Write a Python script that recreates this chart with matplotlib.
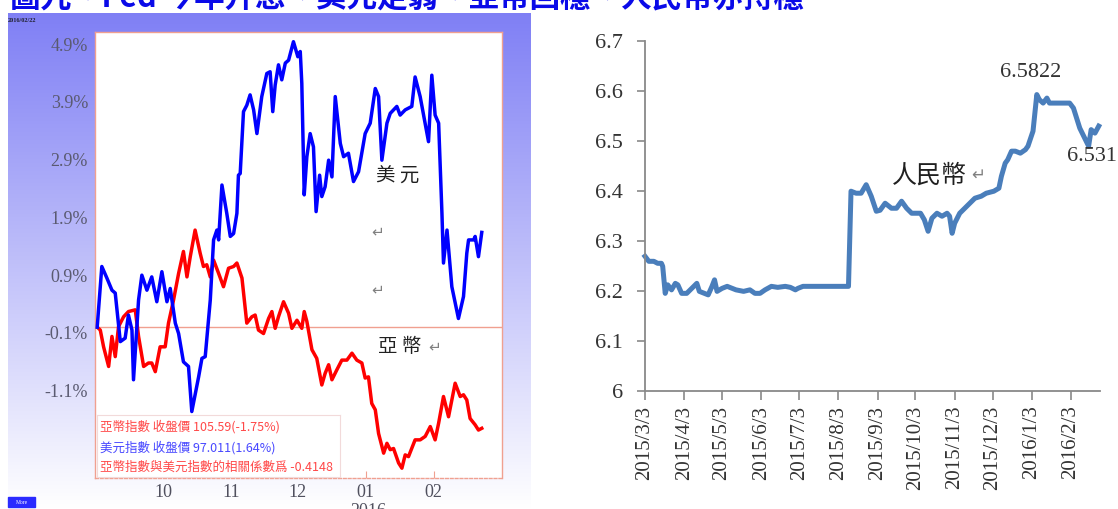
import numpy as np
import matplotlib
matplotlib.use("Agg")
import matplotlib.pyplot as plt

plt.rcParams['font.family'] = ['Liberation Serif', 'DejaVu Sans']
plt.rcParams['axes.unicode_minus'] = False
CJK = ['Noto Sans CJK TC', 'DejaVu Sans']

title = "圖九、Fed 今年升息、美元走弱、亞幣回穩、人民幣亦持穩"

# left panel: % change since 2015/09/01, x = days since 2015/09/01
usd_day = [0, 2.1, 4.4, 6.7, 8.2, 10.5, 12.7, 14.2, 15.8, 16.5,
           18.8, 20.3, 22.6, 24.8, 27.1, 29.4, 31.7, 33.2, 35.5, 37.0,
           39.2, 41.5, 43.0, 46.1, 47.6, 49.1, 51.4, 52.9, 54.4, 55.2,
           56.7, 58.9, 60.5, 62.0, 63.5, 64.2, 65.0, 66.5, 68.0, 69.5,
           71.1, 72.6, 74.8, 77.1, 78.6, 79.8, 80.9, 82.4, 83.9, 85.5,
           87.0, 89.2, 91.2, 92.3, 93.0, 94.1, 95.3, 96.8, 98.3, 99.5,
           101.1, 102.1, 103.6, 105.2, 106.7, 108.2, 110.5, 112.0, 114.2, 116.5,
           118.8, 121.8, 124.1, 126.4, 127.9, 129.4, 131.7, 133.2, 136.2, 137.7,
           140.0, 143.0, 144.5, 146.8, 150.6, 152.1, 153.6, 155.2, 156.7, 157.4,
           159.0, 161.2, 164.2, 166.5, 168.0, 168.8, 171.1, 171.8, 173.3, 174.8]
usd_pct = [0.0, 1.05, 0.85, 0.64, 0.59, -0.25, -0.19, 0.21, -0.05, -0.91,
           0.47, 0.90, 0.64, 0.87, 0.44, 0.96, 0.44, 0.67, 0.07, -0.11,
           -0.60, -0.68, -1.46, -0.86, -0.54, -0.51, 0.47, 1.51, 1.68, 1.51,
           2.46, 1.97, 1.57, 1.62, 1.97, 2.63, 2.66, 3.73, 3.84, 4.02,
           3.76, 3.35, 3.99, 4.39, 4.42, 3.73, 4.19, 4.54, 4.28, 4.57,
           4.62, 4.94, 4.68, 4.77, 4.22, 2.29, 2.95, 3.35, 3.12, 2.00,
           2.63, 2.26, 2.43, 2.89, 2.60, 3.99, 3.18, 2.95, 3.01, 2.52,
           2.69, 3.35, 3.53, 4.13, 3.99, 2.89, 3.53, 3.70, 3.82, 3.67,
           3.76, 3.82, 4.33, 3.99, 3.21, 4.36, 3.67, 3.53, 1.97, 1.11,
           1.68, 0.70, 0.15, 0.53, 1.28, 1.51, 1.51, 1.57, 1.22, 1.64]

asia_day = [0, 1.4, 2.9, 5.2, 6.7, 8.2, 9.7, 12.0, 14.2, 17.3,
            18.8, 21.1, 23.3, 24.8, 26.4, 28.6, 30.9, 32.4, 34.7, 37.0,
            39.2, 40.8, 42.3, 44.5, 46.8, 48.3, 49.8, 51.4, 52.9, 55.2,
            57.4, 59.7, 62.0, 63.5, 65.8, 68.0, 70.3, 71.8, 73.3, 75.6,
            77.9, 79.4, 80.9, 82.4, 84.7, 87.0, 88.5, 90.8, 93.0, 94.1,
            95.3, 97.6, 99.8, 102.1, 103.6, 105.2, 106.7, 108.9, 111.2, 113.5,
            115.8, 118.0, 120.3, 121.8, 123.3, 124.8, 126.4, 127.9, 130.2, 131.7,
            133.2, 134.7, 137.0, 138.5, 140.0, 141.5, 144.5, 146.8, 149.1, 151.4,
            153.6, 155.2, 157.4, 159.7, 162.7, 165.0, 166.5, 168.0, 169.5, 171.8,
            173.3, 174.8]
asia_pct = [0.0, -0.05, -0.34, -0.68, -0.16, -0.51, 0.01, 0.18, 0.27, 0.30,
            -0.16, -0.68, -0.62, -0.62, -0.77, -0.34, -0.34, 0.07, 0.47, 0.93,
            1.31, 0.87, 1.22, 1.68, 1.28, 1.05, 1.08, 0.87, 1.16, 0.93,
            0.70, 1.02, 1.05, 1.11, 0.85, 0.07, 0.18, 0.21, -0.05, -0.11,
            0.15, 0.27, -0.02, 0.18, 0.44, 0.24, -0.02, 0.12, -0.02, 0.27,
            0.10, -0.39, -0.54, -1.00, -0.80, -0.65, -0.91, -0.74, -0.57, -0.57,
            -0.45, -0.57, -0.62, -0.88, -0.86, -1.32, -1.43, -1.84, -2.18, -2.01,
            -2.12, -2.10, -2.35, -2.44, -2.21, -2.24, -1.95, -1.95, -1.89, -1.72,
            -1.95, -1.66, -1.20, -1.55, -0.97, -1.20, -1.17, -1.26, -1.58, -1.69,
            -1.78, -1.75]

left_yticks = [-1.1, -0.1, 0.9, 1.9, 2.9, 3.9, 4.9]
month_days = [30, 61, 91, 122, 153]
month_labels = ['10', '11', '12', '01', '02']
legend_lines = [("亞幣指數 收盤價 105.59(-1.75%)", '#ff4848'),
                ("美元指數 收盤價 97.011(1.64%)", '#4848ff'),
                ("亞幣指數與美元指數的相關係數爲 -0.4148", '#ff4848')]

# right panel: USD/CNY, x = days since 2015/03/03
cny_day = [0, 3, 7, 10, 13, 14, 16, 18, 21, 24,
           26, 29, 33, 37, 41, 43, 47, 50, 53, 55,
           57, 61, 65, 69, 72, 78, 83, 87, 91, 95,
           100, 105, 111, 115, 119, 121, 125, 141, 161, 163,
           167, 171, 175, 179, 183, 186, 190, 195, 199, 203,
           207, 211, 218, 221, 224, 227, 231, 235, 239, 241,
           243, 245, 249, 253, 257, 261, 266, 270, 276, 280,
           282, 285, 287, 290, 293, 297, 301, 303, 307, 310,
           312, 315, 318, 320, 326, 336, 339, 344, 351, 353,
           356, 359]
cny = [6.269, 6.259, 6.259, 6.255, 6.255, 6.249, 6.195, 6.212, 6.202, 6.215,
       6.212, 6.195, 6.195, 6.205, 6.215, 6.199, 6.195, 6.192, 6.209, 6.222,
       6.199, 6.205, 6.209, 6.205, 6.202, 6.199, 6.202, 6.195, 6.195, 6.202,
       6.209, 6.207, 6.209, 6.207, 6.202, 6.205, 6.209, 6.209, 6.209, 6.399,
       6.395, 6.395, 6.412, 6.389, 6.359, 6.361, 6.375, 6.365, 6.365, 6.379,
       6.365, 6.355, 6.355, 6.342, 6.319, 6.345, 6.355, 6.349, 6.355, 6.349,
       6.315, 6.335, 6.355, 6.365, 6.375, 6.385, 6.389, 6.395, 6.399, 6.405,
       6.429, 6.455, 6.462, 6.479, 6.479, 6.475, 6.482, 6.489, 6.519, 6.592,
       6.582, 6.575, 6.585, 6.575, 6.575, 6.575, 6.565, 6.525, 6.489, 6.522,
       6.515, 6.529]
cny_ticks = ['2015-03-03', '2015-04-03', '2015-05-03', '2015-06-03', '2015-07-03',
             '2015-08-03', '2015-09-03', '2015-10-03', '2015-11-03', '2015-12-03',
             '2016-01-03', '2016-02-03']
cny_tick_labels = ['2015/3/3', '2015/4/3', '2015/5/3', '2015/6/3', '2015/7/3',
                   '2015/8/3', '2015/9/3', '2015/10/3', '2015/11/3', '2015/12/3',
                   '2016/1/3', '2016/2/3']
cny_yticks = [6.0, 6.1, 6.2, 6.3, 6.4, 6.5, 6.6, 6.7]
cny_ylabels = ['6', '6.1', '6.2', '6.3', '6.4', '6.5', '6.6', '6.7']

W, H = 1118, 509


def fx(x):
    return x / W


def fy(y):
    return 1 - y / H


fig = plt.figure(figsize=(11.18, 5.09), dpi=100)

# title, cut off at the top like the source
fig.text(fx(10), fy(6.5), title, family=CJK, fontsize=22, weight='bold',
         color='#0a0ae8', va='baseline', ha='left')

# gradient backdrop of the left screenshot
bg = fig.add_axes([fx(7.5), 0, fx(530) - fx(7.5), fy(13)])
t = np.linspace(0, 1, 256)[:, None, None]
c_top = np.array([0.50, 0.50, 0.96])
img = c_top + (1 - c_top) * t
bg.imshow(img, aspect='auto', extent=[0, 1, 0, 1], origin='upper')
bg.axis('off')
fig.text(fx(8), fy(21), "2016/02/22", fontsize=4.5, weight='bold', color='#202030', va='center')
fig.add_artist(plt.Rectangle((fx(8), fy(507)), fx(27), 10 / H, transform=fig.transFigure,
                             color='#2a2aff'))
fig.text(fx(21.5), fy(502), "More", fontsize=4, color='white', ha='center', va='center')

# left chart
salmon = '#f0a090'
ax1 = fig.add_axes([fx(95), fy(478), fx(502) - fx(95), fy(31.7) - fy(478)])
ax1.set_facecolor('white')
ax1.axhline(0, color=salmon, lw=1, zorder=1)
ax1.plot(asia_day, asia_pct, color='#ff0000', lw=2.5, zorder=2)
ax1.plot(usd_day, usd_pct, color='#0000ff', lw=2.5, zorder=3)
ax1.set_xlim(-1, 184)
ax1.set_ylim(-2.61, 5.113)
ax1.set_yticks(left_yticks, [f"{v:.1f}%" for v in left_yticks])
ax1.set_xticks(month_days, month_labels)
ax1.tick_params(axis='y', length=0, pad=5, labelsize=13, labelcolor='#5a5a70')
ax1.tick_params(axis='x', direction='in', length=5, color=salmon, pad=4,
                labelsize=13, labelcolor='#50505e')
for s in ax1.spines.values():
    s.set_color(salmon)
    s.set_linewidth(1)
ax1.spines['bottom'].set_linestyle((0, (2, 1.5)))
fig.text(fx(368), fy(503), "2016", fontsize=13, color='#50505e', ha='center', va='top')

ax1.text(136.8, 2.62, "美 元", family=CJK, fontsize=14, color='#202020', ha='center', va='center')
ax1.text(137.3, -0.34, "亞 幣", family=CJK, fontsize=14, color='#202020', ha='center', va='center')
for yv in [1.65, 0.64]:
    ax1.text(127.3, yv, "↵", family=['DejaVu Sans'], fontsize=11, color='#808080',
             ha='center', va='center')
ax1.text(153.5, -0.34, "↵", family=['DejaVu Sans'], fontsize=11, color='#808080',
         ha='center', va='center')

# legend box
lg = fig.add_axes([fx(97), fy(477), fx(340) - fx(97), fy(415) - fy(477)])
lg.set_facecolor('white')
lg.set_xticks([])
lg.set_yticks([])
for s in lg.spines.values():
    s.set_color('#f2dada')
for (txt, col), yy in zip(legend_lines, [0.81, 0.48, 0.16]):
    lg.text(0.012, yy, txt, family=CJK, fontsize=9, color=col, va='center', ha='left',
            transform=lg.transAxes)

# right chart
grey = '#898989'
start = np.datetime64('2015-03-03')
cny_dates = start + np.array(cny_day, dtype='timedelta64[D]')
ax2 = fig.add_axes([fx(645), fy(391), fx(1100) - fx(645), fy(40.5) - fy(391)])
ax2.plot(cny_dates, cny, color='#4a7ebb', lw=3.6, solid_joinstyle='round', clip_on=False)
ax2.set_xlim(start, start + np.timedelta64(360, 'D'))
ax2.set_ylim(6.0, 6.7)
ax2.set_yticks(cny_yticks, cny_ylabels)
ax2.set_xticks(np.array(cny_ticks, dtype='datetime64[D]'), cny_tick_labels, rotation=90)
ax2.tick_params(axis='y', direction='out', length=6, width=1.2, color=grey, pad=10,
                labelsize=16, labelcolor='#333333')
ax2.tick_params(axis='x', direction='out', length=6.5, width=1.2, color=grey, pad=4,
                labelsize=15, labelcolor='#333333')
for side in ['top', 'right']:
    ax2.spines[side].set_visible(False)
for side in ['left', 'bottom']:
    ax2.spines[side].set_color(grey)
    ax2.spines[side].set_linewidth(1.3)

ax2.text(start + np.timedelta64(305, 'D'), 6.637, "6.5822", fontsize=16, color='#333333',
         ha='center', va='center')
ax2.text(start + np.timedelta64(334, 'D'), 6.469, "6.531", fontsize=16, color='#333333',
         ha='left', va='center', clip_on=False)
ax2.text(start + np.timedelta64(195, 'D'), 6.431, "人民幣", family=CJK, fontsize=18,
         color='#202020', ha='left', va='center')
ax2.text(start + np.timedelta64(258, 'D'), 6.433, "↵", family=['DejaVu Sans'], fontsize=12,
         color='#808080', ha='left', va='center')

fig.savefig("out.png", dpi=100)
